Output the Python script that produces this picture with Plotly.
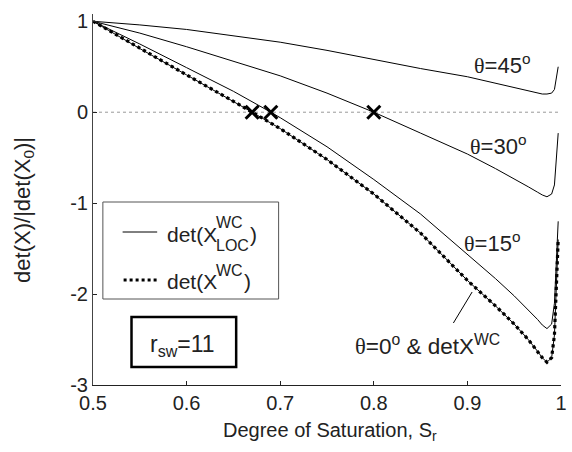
import plotly.graph_objects as go

# ---------------- data ----------------
S_45 = [0.5, 0.55, 0.6, 0.65, 0.7, 0.75, 0.8, 0.85, 0.9, 0.93, 0.95, 0.965, 0.975, 0.98, 0.985, 0.99, 0.993, 0.997]
det_45 = [1.0, 0.96, 0.91, 0.84, 0.77, 0.68, 0.58, 0.48, 0.39, 0.32, 0.27, 0.23, 0.21, 0.2, 0.2, 0.21, 0.25, 0.5]

S_30 = [0.5, 0.55, 0.6, 0.65, 0.7, 0.75, 0.8, 0.85, 0.9, 0.93, 0.95, 0.965, 0.975, 0.98, 0.985, 0.99, 0.993, 0.997]
det_30 = [1.0, 0.87, 0.72, 0.56, 0.4, 0.21, 0.0, -0.23, -0.46, -0.62, -0.73, -0.82, -0.88, -0.91, -0.93, -0.9, -0.8, -0.23]

S_15 = [0.5, 0.55, 0.6, 0.65, 0.69, 0.7, 0.75, 0.8, 0.85, 0.9, 0.93, 0.95, 0.965, 0.975, 0.98, 0.985, 0.99, 0.993, 0.997]
det_15 = [1.0, 0.75, 0.49, 0.23, 0.0, -0.06, -0.38, -0.74, -1.12, -1.56, -1.83, -2.02, -2.17, -2.28, -2.34, -2.38, -2.33, -2.1, -1.2]

S_0 = [0.5, 0.55, 0.6, 0.65, 0.67, 0.7, 0.75, 0.8, 0.85, 0.9, 0.93, 0.95, 0.965, 0.975, 0.98, 0.985, 0.99, 0.993, 0.997]
det_0 = [1.0, 0.7, 0.41, 0.12, 0.0, -0.18, -0.52, -0.9, -1.33, -1.85, -2.13, -2.33, -2.5, -2.63, -2.7, -2.75, -2.7, -2.45, -1.4]

cross_S = [0.67, 0.69, 0.80]
cross_val = [0.0, 0.0, 0.0]

x_ticks = [0.5, 0.6, 0.7, 0.8, 0.9, 1.0]
x_tick_labels = ["0.5", "0.6", "0.7", "0.8", "0.9", "1"]
y_ticks = [-3, -2, -1, 0, 1]
y_tick_labels = ["-3", "-2", "-1", "0", "1"]

# ---------------- layout geometry (pixels) ----------------
W, H = 572, 452
L, R, T, B = 93, 5, 14, 67
PW, PH = W - L - R, H - T - B

def px(x):
    return (x - L) / PW

def py(y):
    return (H - B - y) / PH

FONT = "Liberation Sans, Arial, sans-serif"

fig = go.Figure()

# zero reference line
fig.add_shape(type="line", xref="x", yref="y", x0=0.5, x1=1.0, y0=0, y1=0,
              line=dict(color="#9a9a9a", width=1, dash="dot"), layer="below")

for s, d in [(S_45, det_45), (S_30, det_30), (S_15, det_15), (S_0, det_0)]:
    fig.add_trace(go.Scatter(x=s, y=d, mode="lines",
                             line=dict(color="black", width=1), showlegend=False))

fig.add_trace(go.Scatter(x=S_0, y=det_0, mode="lines",
                         line=dict(color="black", width=3.2, dash="dot"), showlegend=False))

fig.add_trace(go.Scatter(x=cross_S, y=cross_val, mode="markers",
                         marker=dict(symbol="x-thin", size=13, color="black",
                                     line=dict(color="black", width=3)),
                         showlegend=False))

# legend box
fig.add_shape(type="rect", xref="paper", yref="paper", x0=px(103), x1=px(281), y0=py(299), y1=py(202),
              line=dict(color="#555", width=1), fillcolor="white", layer="above")
fig.add_shape(type="line", xref="paper", yref="paper", x0=px(123), x1=px(158), y0=py(232), y1=py(232),
              line=dict(color="black", width=1))
fig.add_shape(type="line", xref="paper", yref="paper", x0=px(124), x1=px(158), y0=py(280), y1=py(280),
              line=dict(color="black", width=3, dash="dot"))

def ann(text, x, y, size=20, xanchor="left", yanchor="middle", angle=0, family=FONT):
    fig.add_annotation(text=text, xref="paper", yref="paper", x=px(x), y=py(y),
                       xanchor=xanchor, yanchor=yanchor, showarrow=False, textangle=angle,
                       font=dict(family=family, size=size, color="#222"))

# legend entry 1: det(X^WC_LOC)
ann("det(X", 166, 234, size=21)
ann("WC", 216, 223, size=16)
ann("LOC", 216, 245, size=16)
ann(")", 250, 234, size=21)
# legend entry 2: det(X^WC)
ann("det(X", 166, 281, size=21)
ann("WC", 216, 270, size=16)
ann(")", 244, 281, size=21)

# r_sw box
fig.add_shape(type="rect", xref="paper", yref="paper", x0=px(132), x1=px(238), y0=py(367), y1=py(317),
              line=dict(color="black", width=2.5), fillcolor="white")
ann("r<sub>sw</sub>=11", 184, 345, size=23, xanchor="center")

# theta labels
TH = "<span style='font-family:Liberation Serif'>θ</span>"
ann(TH + "=45<sup>o</sup>", 507, 64, size=22, xanchor="center")
ann(TH + "=30<sup>o</sup>", 503, 145, size=22, xanchor="center")
ann(TH + "=15<sup>o</sup>", 497, 242, size=22, xanchor="center")
ann(TH + "=0<sup>o</sup> &amp; detX<sup>WC</sup>", 356, 345, size=22.5, xanchor="left")

# pointer line
fig.add_shape(type="line", xref="paper", yref="paper", x0=px(458), y0=py(323), x1=px(477), y1=py(292),
              line=dict(color="black", width=1))

# axis titles
ann("Degree of Saturation, S<sub>r</sub>", 333, 431, size=20, xanchor="center")
ann("det(X)/|det(X<sub>0</sub>)|", 23, 210, size=22, xanchor="center", angle=-90)

fig.update_layout(
    width=W, height=H, margin=dict(l=L, r=R, t=T, b=B),
    paper_bgcolor="white", plot_bgcolor="white",
    font=dict(family=FONT, size=20, color="#222"),
    xaxis=dict(range=[0.5, 1.0], tickvals=x_ticks, ticktext=x_tick_labels,
               ticklabeloverflow="allow",
               showline=True, linecolor="#222", linewidth=1, ticks="inside", ticklen=4,
               tickcolor="#222", showgrid=False, zeroline=False, mirror=False),
    yaxis=dict(range=[-3, 1.08], tickvals=y_ticks, ticktext=y_tick_labels,
               ticklabeloverflow="allow",
               showline=True, linecolor="#444", linewidth=1, ticks="inside", ticklen=4,
               tickcolor="#222", showgrid=False, zeroline=False, mirror=False),
)

fig.write_html("out.html")
